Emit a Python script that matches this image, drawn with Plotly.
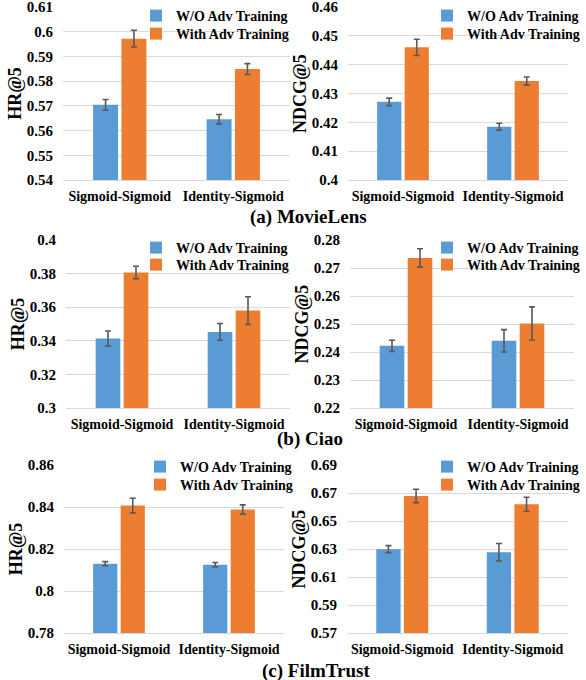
import plotly.graph_objects as go

# ---------------- data ----------------
categories = ["Sigmoid-Sigmoid", "Identity-Sigmoid"]
series_names = ["W/O Adv Training", "With Adv Training"]

movielens_hr_wo = [0.5704, 0.5646]
movielens_hr_wo_err = [0.0022, 0.0019]
movielens_hr_w = [0.5972, 0.5849]
movielens_hr_w_err = [0.0034, 0.0022]

movielens_ndcg_wo = [0.4271, 0.4185]
movielens_ndcg_wo_err = [0.0013, 0.0012]
movielens_ndcg_w = [0.4460, 0.4343]
movielens_ndcg_w_err = [0.0028, 0.0014]

ciao_hr_wo = [0.3414, 0.3453]
ciao_hr_wo_err = [0.0044, 0.0050]
ciao_hr_w = [0.3807, 0.3580]
ciao_hr_w_err = [0.0037, 0.0082]

ciao_ndcg_wo = [0.2422, 0.2440]
ciao_ndcg_wo_err = [0.0020, 0.0040]
ciao_ndcg_w = [0.2736, 0.2502]
ciao_ndcg_w_err = [0.0033, 0.0059]

filmtrust_hr_wo = [0.8130, 0.8125]
filmtrust_hr_wo_err = [0.0010, 0.0011]
filmtrust_hr_w = [0.8407, 0.8388]
filmtrust_hr_w_err = [0.0035, 0.0022]

filmtrust_ndcg_wo = [0.6299, 0.6277]
filmtrust_ndcg_wo_err = [0.0025, 0.0062]
filmtrust_ndcg_w = [0.6679, 0.6620]
filmtrust_ndcg_w_err = [0.0048, 0.0050]

ml_hr_ticks = ["0.54", "0.55", "0.56", "0.57", "0.58", "0.59", "0.6", "0.61"]
ml_ndcg_ticks = ["0.4", "0.41", "0.42", "0.43", "0.44", "0.45", "0.46"]
ciao_hr_ticks = ["0.3", "0.32", "0.34", "0.36", "0.38", "0.4"]
ciao_ndcg_ticks = ["0.22", "0.23", "0.24", "0.25", "0.26", "0.27", "0.28"]
ft_hr_ticks = ["0.78", "0.8", "0.82", "0.84", "0.86"]
ft_ndcg_ticks = ["0.57", "0.59", "0.61", "0.63", "0.65", "0.67", "0.69"]

captions = ["(a) MovieLens", "(b) Ciao", "(c) FilmTrust"]
metric_titles = ["HR@5", "NDCG@5"]

# ---------------- layout helpers ----------------
W, H = 586, 680
FONT = "Liberation Serif, Times New Roman, serif"
BLUE = "#5B9BD5"
ORANGE = "#ED7D31"
ERR = "#595959"
GRID = "#D9D9D9"

def px_x(a, b):
    return [a / W, b / W]

def px_y(top, bottom):
    return [1 - bottom / H, 1 - top / H]

panels = [
    # (wo, wo_err, w, w_err, ticks, title, xdom px, ydom px, legend text-left px, legend row centers px)
    (movielens_hr_wo, movielens_hr_wo_err, movielens_hr_w, movielens_hr_w_err, ml_hr_ticks, metric_titles[0], (63, 290), (7, 180), 176, (16, 34)),
    (movielens_ndcg_wo, movielens_ndcg_wo_err, movielens_ndcg_w, movielens_ndcg_w_err, ml_ndcg_ticks, metric_titles[1], (348, 568), (7, 180), 467, (16, 34)),
    (ciao_hr_wo, ciao_hr_wo_err, ciao_hr_w, ciao_hr_w_err, ciao_hr_ticks, metric_titles[0], (66, 290), (240, 408), 176, (248, 265)),
    (ciao_ndcg_wo, ciao_ndcg_wo_err, ciao_ndcg_w, ciao_ndcg_w_err, ciao_ndcg_ticks, metric_titles[1], (350, 574), (240, 408), 467, (248, 265)),
    (filmtrust_hr_wo, filmtrust_hr_wo_err, filmtrust_hr_w, filmtrust_hr_w_err, ft_hr_ticks, metric_titles[0], (64, 284), (465, 633), 180, (467, 485)),
    (filmtrust_ndcg_wo, filmtrust_ndcg_wo_err, filmtrust_ndcg_w, filmtrust_ndcg_w_err, ft_ndcg_ticks, metric_titles[1], (347, 568), (465, 633), 467, (467, 485)),
]

fig = go.Figure()
layout = dict(
    width=W, height=H, autosize=False,
    margin=dict(l=0, r=0, t=0, b=0, autoexpand=False),
    paper_bgcolor="white", plot_bgcolor="white",
    font=dict(family=FONT, size=14, color="black", weight="bold"),
    barmode="group", bargap=0.5, bargroupgap=0.12,
    showlegend=True,
)

leg_count = 0
for i, (wo, wo_err, w, w_err, ticks, title, xd, yd, leg_x, leg_ys) in enumerate(panels):
    n = "" if i == 0 else str(i + 1)
    series = ((wo, wo_err, BLUE, series_names[0]), (w, w_err, ORANGE, series_names[1]))
    for (vals, errs, color, name), ly in zip(series, leg_ys):
        leg_count += 1
        leg = "legend" if leg_count == 1 else f"legend{leg_count}"
        fig.add_trace(go.Bar(
            x=categories, y=vals, name=name,
            marker=dict(color=color, line=dict(width=0)),
            error_y=dict(type="data", array=errs, color=ERR, thickness=1.6, width=3),
            xaxis="x" + n, yaxis="y" + n, legend=leg,
        ))
        layout[leg] = dict(
            x=(leg_x - 40) / W, xanchor="left",
            y=1 - ly / H, yanchor="middle",
            bgcolor="rgba(0,0,0,0)", borderwidth=0,
            tracegroupgap=0, itemwidth=30,
            font=dict(size=14, family=FONT, weight="bold", color="black"),
            itemclick=False, itemdoubleclick=False,
        )
    tickvals = [float(t) for t in ticks]
    layout["xaxis" + n] = dict(
        domain=px_x(*xd), anchor="y" + n, type="category",
        showline=True, linecolor=GRID, linewidth=1, ticks="",
        showgrid=False, ticklabelstandoff=3, automargin=False,
        tickfont=dict(size=14, family=FONT, weight="bold"),
    )
    layout["yaxis" + n] = dict(
        domain=px_y(*yd), anchor="x" + n,
        range=[tickvals[0], tickvals[-1] + 1e-9],
        tickvals=tickvals, ticktext=ticks,
        showgrid=True, gridcolor=GRID, gridwidth=1,
        showline=False, zeroline=False, ticks="",
        ticklabelstandoff=9, automargin=False, ticklabeloverflow="allow",
        tickfont=dict(size=15, family=FONT, weight="bold"),
        title=dict(text=title, standoff=0, font=dict(size=18, family=FONT, weight="bold")),
    )

caption_pos = [(308, 217), (310, 439), (316, 671)]
annotations = []
for text, (cx, cy) in zip(captions, caption_pos):
    annotations.append(dict(
        text=text, x=cx / W, y=1 - cy / H, xref="paper", yref="paper",
        xanchor="center", yanchor="middle", showarrow=False,
        font=dict(size=19, family=FONT, weight="bold", color="black"),
    ))
layout["annotations"] = annotations

fig.update_layout(**layout)
fig.write_html(
    "out.html",
    config={"displayModeBar": False},
    post_script="document.body.style.margin='0';document.body.style.overflow='hidden';",
)
